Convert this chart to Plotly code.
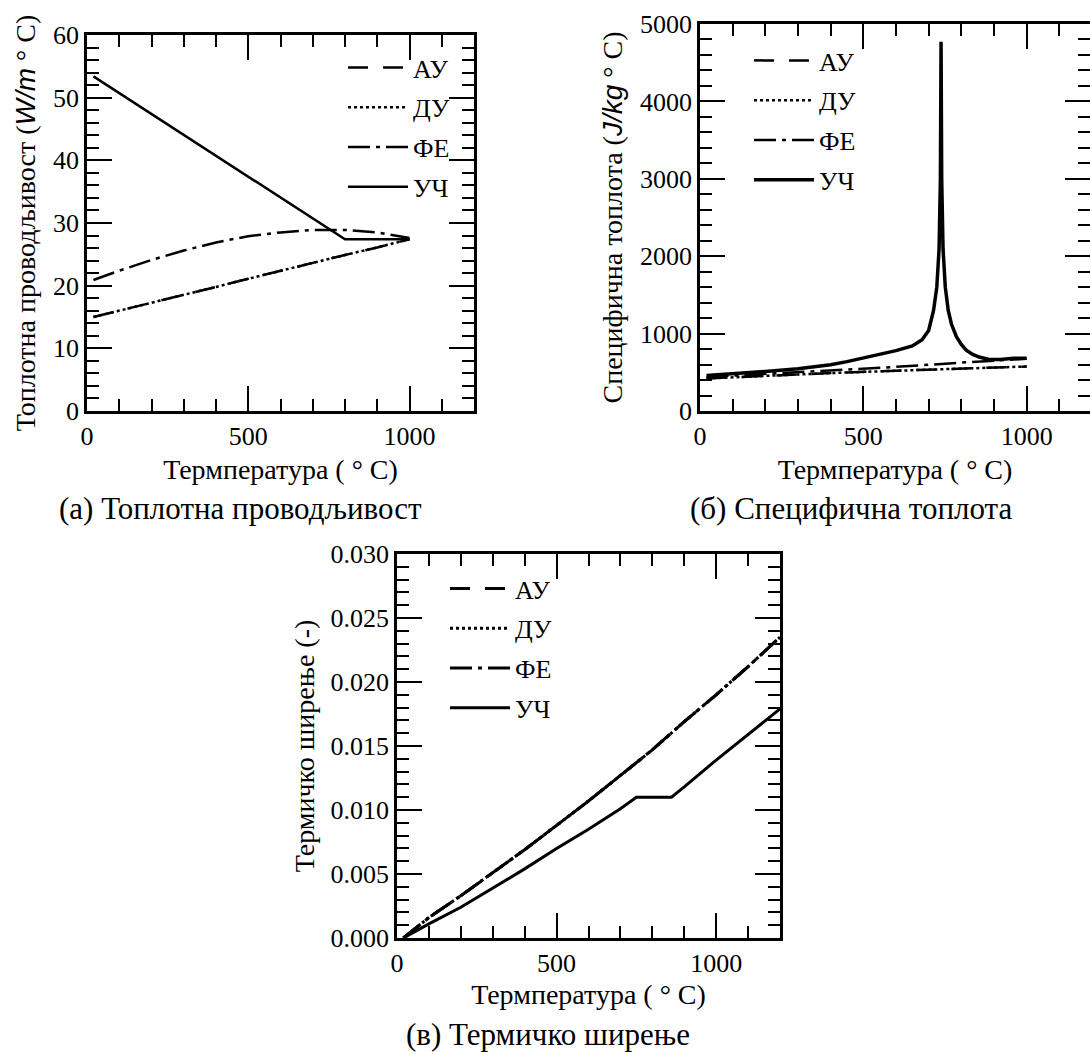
import plotly.graph_objects as go

# ---------------- data ----------------
# (a) thermal conductivity
T_k = [20, 100, 200, 300, 400, 500, 600, 700, 800, 900, 1000]
k_au = [15.0, 16.0, 17.2, 18.5, 19.8, 21.1, 22.4, 23.7, 24.9, 26.1, 27.4]
k_du = [15.0, 16.0, 17.2, 18.5, 19.8, 21.1, 22.4, 23.7, 24.9, 26.1, 27.4]
k_fe = [20.9, 22.4, 24.1, 25.6, 26.9, 27.9, 28.5, 28.9, 28.9, 28.5, 27.6]
T_k_uch = [20, 800, 1000]
k_uch = [53.4, 27.4, 27.4]

# (b) specific heat
T_cp = [20, 200, 400, 600, 800, 1000]
cp_au = [420, 455, 490, 520, 550, 575]
cp_du = [420, 455, 490, 520, 550, 575]
cp_fe = [440, 480, 520, 570, 625, 675]
T_cp_uch = [20, 100, 200, 300, 350, 400, 450, 500, 550, 600, 650, 680, 700, 715, 725, 732, 736, 738,
            740, 744, 751, 760, 770, 785, 800, 815, 835, 855, 885, 920, 960, 1000]
cp_uch = [460, 480, 510, 545, 568, 598, 638, 685, 735, 780, 840, 920, 1040, 1300, 1600, 2100, 3000, 4770,
          3000, 2100, 1600, 1300, 1120, 960, 860, 785, 730, 697, 665, 665, 680, 680]

# (c) thermal expansion
T_e = [20, 100, 200, 300, 400, 500, 600, 700, 800, 900, 1000, 1100, 1200]
e_au = [0, 0.0016, 0.0033, 0.0051, 0.0069, 0.0088, 0.0107, 0.0127, 0.0147, 0.0169, 0.0190, 0.0212, 0.0235]
e_du = [0, 0.0016, 0.0033, 0.0051, 0.0069, 0.0088, 0.0107, 0.0127, 0.0147, 0.0169, 0.0190, 0.0212, 0.0235]
e_fe = [0, 0.0016, 0.0033, 0.0051, 0.0069, 0.0088, 0.0107, 0.0127, 0.0147, 0.0169, 0.0190, 0.0212, 0.0235]
T_e_uch = [20, 100, 200, 300, 400, 500, 600, 700, 750, 860, 900, 1000, 1100, 1200]
e_uch = [0, 0.0011, 0.0024, 0.0039, 0.0054, 0.0070, 0.0085, 0.0101, 0.0110, 0.0110, 0.0118, 0.0139, 0.0159, 0.0179]

names = ["АУ", "ДУ", "ФЕ", "УЧ"]
dashes = ["20px,15px", "3px,3px", "22px,6px,4px,6px", "solid"]

FONT = "Times New Roman, Liberation Serif, Tinos, serif"
W, H = 1090, 1052

fig = go.Figure()

panels = [
    ("x", "y", "legend", [(T_k, k_au), (T_k, k_du), (T_k, k_fe), (T_k_uch, k_uch)], [2.5, 2.5, 2.5, 2.5]),
    ("x2", "y2", "legend2", [(T_cp, cp_au), (T_cp, cp_du), (T_cp, cp_fe), (T_cp_uch, cp_uch)], [2.5, 2.5, 2.5, 3.5]),
    ("x3", "y3", "legend3", [(T_e, e_au), (T_e, e_du), (T_e, e_fe), (T_e_uch, e_uch)], [3, 3, 3, 3]),
]

for xa, ya, lg, series, widths in panels:
    for i, ((xs, ys), nm) in enumerate(zip(series, names)):
        fig.add_trace(go.Scatter(
            x=xs, y=ys, name=nm, mode="lines", xaxis=xa, yaxis=ya,
            legend=lg, legendgroup=lg + nm,
            line=dict(color="black", width=widths[i], dash=dashes[i]),
        ))


def px_x(p):
    return p / W


def px_y(p):
    return 1 - p / H


def axis(domain, rng, dtick, minor, anchor, title=None, fmt=None, standoff=12):
    d = dict(
        domain=domain, range=rng, dtick=dtick, tick0=0, anchor=anchor,
        ticks="inside", ticklen=25, tickwidth=2, tickcolor="black",
        minor=dict(dtick=minor, ticks="inside", ticklen=12, tickwidth=2, tickcolor="black"),
        showline=True, linewidth=2.5, linecolor="black", mirror="ticks",
        showgrid=False, zeroline=False, automargin=False,
        tickfont=dict(family=FONT, size=26, color="black"),
    )
    if fmt:
        d["tickformat"] = fmt
    if title:
        d["title"] = dict(text=title, font=dict(family=FONT, size=28, color="black"), standoff=standoff)
    return d


xtitle = "Термпература ( ° C)"
ital = "<span style='font-family:Liberation Sans, Arial, sans-serif'><i>%s</i></span>"

fig.update_layout(
    width=W, height=H, margin=dict(l=0, r=0, t=0, b=0),
    paper_bgcolor="white", plot_bgcolor="white",
    template="none",
    font=dict(family=FONT, color="black"),
    xaxis=axis([px_x(87), px_x(474)], [0, 1200], 500, 100, "y", xtitle, standoff=10),
    yaxis=axis([px_y(411), px_y(35)], [0, 60], 10, 2, "x",
               "Топлотна проводљивост (" + ital % "W/m" + " ° C)", standoff=10),
    xaxis2=axis([px_x(700), 1.0], [0, 1194], 500, 100, "y2", xtitle, standoff=10),
    yaxis2=axis([px_y(411), px_y(24)], [0, 5000], 1000, 200, "x2",
                "Специфична топлота (" + ital % "J/kg" + " ° C)", standoff=10),
    xaxis3=axis([px_x(397), px_x(780)], [0, 1200], 500, 100, "y3", xtitle, standoff=8),
    yaxis3=axis([px_y(938), px_y(554)], [0, 0.03], 0.005, 0.001, "x3",
                "Термичко ширење (-)", fmt=".3f", standoff=8),
)

leg_common = dict(
    font=dict(family=FONT, size=26, color="black"),
    bgcolor="rgba(0,0,0,0)", borderwidth=0, tracegroupgap=3,
    xanchor="left", yanchor="top", itemwidth=60,
)
fig.update_layout(
    legend=dict(x=px_x(343), y=px_y(44), **leg_common),
    legend2=dict(x=px_x(749), y=px_y(37), **leg_common),
    legend3=dict(x=px_x(445), y=px_y(565), **leg_common),
    showlegend=True,
)

cap_font = dict(family=FONT, size=31, color="black")
for txt, cx, cy in [("(а) Топлотна проводљивост", 240, 509),
                    ("(б) Специфична топлота", 851, 509),
                    ("(в) Термичко ширење", 548, 1034)]:
    fig.add_annotation(text=txt, x=px_x(cx), y=px_y(cy), xref="paper", yref="paper",
                       showarrow=False, font=cap_font, xanchor="center", yanchor="middle")

fig.write_html("out.html")
